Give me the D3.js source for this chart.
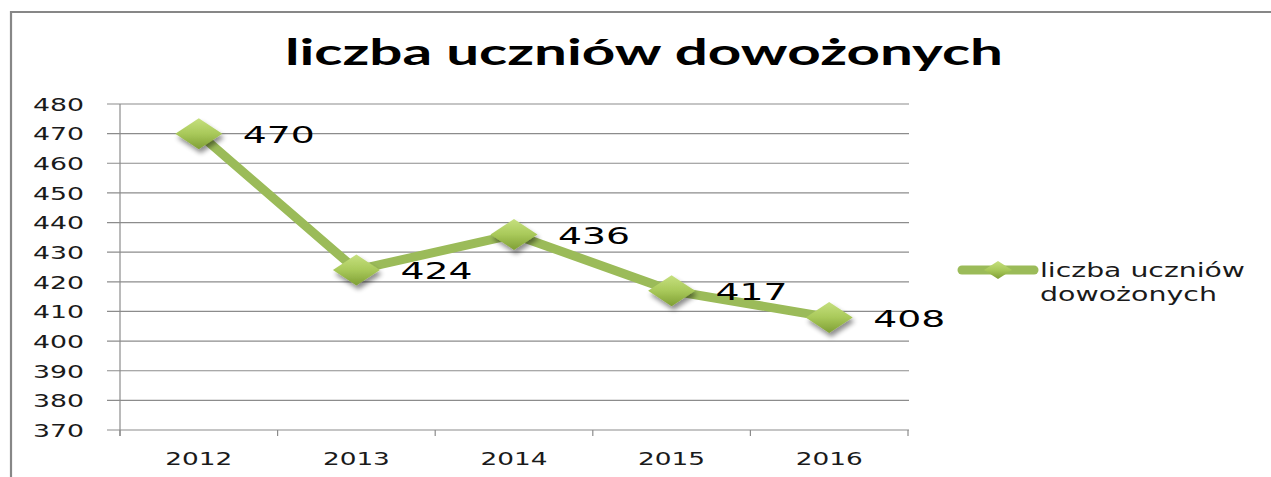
<!DOCTYPE html>
<html><head><meta charset="utf-8">
<script src="https://cdn.jsdelivr.net/npm/d3@7"></script>
<style>body{margin:0;background:#fff;}svg{display:block;}</style>
</head><body>
<svg id="c" width="1271" height="477"></svg>
<script>
const categories = ["2012","2013","2014","2015","2016"];
const values = [470, 424, 436, 417, 408];
const yTicks = [370,380,390,400,410,420,430,440,450,460,470,480];
const seriesName = "liczba uczniów dowożonych";
const legendLines = ["liczba uczniów", "dowożonych"];
const title = "liczba uczniów dowożonych";

const svg = d3.select("#c");
const defs = svg.append("defs");
const grad = defs.append("linearGradient").attr("id","dg").attr("x1","0").attr("y1","0").attr("x2","0").attr("y2","1");
grad.append("stop").attr("offset","0%").attr("stop-color","#c6e07f");
grad.append("stop").attr("offset","50%").attr("stop-color","#a9c95a");
grad.append("stop").attr("offset","100%").attr("stop-color","#7f9f35");
const f = defs.append("filter").attr("id","sh").attr("x","-50%").attr("y","-50%").attr("width","200%").attr("height","200%");
f.append("feGaussianBlur").attr("in","SourceAlpha").attr("stdDeviation",2.5);
f.append("feOffset").attr("dx",2).attr("dy",4).attr("result","ob");
f.append("feComponentTransfer").append("feFuncA").attr("type","linear").attr("slope",0.45);
const fm = f.append("feMerge"); fm.append("feMergeNode"); fm.append("feMergeNode").attr("in","SourceGraphic");

// chart border
svg.append("path").attr("d","M11,477 L11,12 L1271,12").attr("fill","none").attr("stroke","#878787").attr("stroke-width",2.2);

svg.append("text").attr("x",644).attr("y",65).attr("text-anchor","middle")
  .attr("font-family","Lato, 'Open Sans', sans-serif").attr("font-weight","bold").attr("font-size",36)
  .attr("textLength",718).attr("lengthAdjust","spacingAndGlyphs").attr("fill","#000").text(title);

const x = d3.scaleBand().domain(categories).range([120,908]);
const y = d3.scaleLinear().domain([370,480]).range([430,104]);

// gridlines
svg.append("g").selectAll("line").data(yTicks).join("line")
  .attr("x1",107).attr("x2",909).attr("y1",d=>y(d)).attr("y2",d=>y(d))
  .attr("stroke","#8c8c8c").attr("stroke-width",1.2);
// y axis line
svg.append("line").attr("x1",120).attr("x2",120).attr("y1",y(480)).attr("y2",436).attr("stroke","#8c8c8c").attr("stroke-width",1.2);
// x ticks
const bounds = categories.map(c=>x(c)).concat([x.range()[1]]);
svg.append("g").selectAll("line").data(bounds).join("line")
  .attr("x1",d=>d).attr("x2",d=>d).attr("y1",430).attr("y2",436).attr("stroke","#8c8c8c").attr("stroke-width",1.2);

// y labels
svg.append("g").selectAll("text").data(yTicks).join("text")
  .attr("x",84).attr("y",d=>y(d)+6.8).attr("text-anchor","end")
  .attr("font-family","'DejaVu Sans', sans-serif").attr("font-size",18.5)
  .attr("textLength",51).attr("lengthAdjust","spacingAndGlyphs").attr("fill","#1a1a1a").text(d=>d);
// x labels
svg.append("g").selectAll("text").data(categories).join("text")
  .attr("x",d=>x(d)+x.bandwidth()/2).attr("y",465).attr("text-anchor","middle")
  .attr("font-family","'DejaVu Sans', sans-serif").attr("font-size",18.5)
  .attr("textLength",67).attr("lengthAdjust","spacingAndGlyphs").attr("fill","#1a1a1a").text(d=>d);

const pts = categories.map((c,i)=>({c, v:values[i], px:x(c)+x.bandwidth()/2, py:y(values[i])}));
svg.append("path").datum(pts).attr("d",d3.line().x(d=>d.px).y(d=>d.py))
  .attr("fill","none").attr("stroke","#9bbb59").attr("stroke-width",9).attr("stroke-linejoin","round").attr("stroke-linecap","round");

const diamond = (w,h)=>`M${-w/2},0 L0,${-h/2} L${w/2},0 L0,${h/2} Z`;
svg.append("g").selectAll("path").data(pts).join("path")
  .attr("transform",d=>`translate(${d.px},${d.py})`).attr("d",diamond(47,31))
  .attr("fill","url(#dg)").attr("filter","url(#sh)");

svg.append("g").selectAll("text").data(pts).join("text")
  .attr("x",d=>d.px+44).attr("y",d=>d.py+9.5)
  .attr("font-family","'DejaVu Sans', sans-serif").attr("font-size",23)
  .attr("textLength",72).attr("lengthAdjust","spacingAndGlyphs").attr("fill","#000").text(d=>d.v);

// legend
const lg = svg.append("g");
lg.append("line").attr("x1",962).attr("x2",1034).attr("y1",270).attr("y2",270)
  .attr("stroke","#9bbb59").attr("stroke-width",9).attr("stroke-linecap","round");
lg.append("path").attr("transform","translate(998,270)").attr("d",diamond(28,18)).attr("fill","url(#dg)");
const lens = [205, 177];
lg.selectAll("text").data(legendLines).join("text")
  .attr("x",1040).attr("y",(d,i)=>277+i*24)
  .attr("font-family","'DejaVu Sans', sans-serif").attr("font-size",19)
  .attr("textLength",(d,i)=>lens[i]).attr("lengthAdjust","spacingAndGlyphs").attr("fill","#1a1a1a").text(d=>d);
</script>
</body></html>
